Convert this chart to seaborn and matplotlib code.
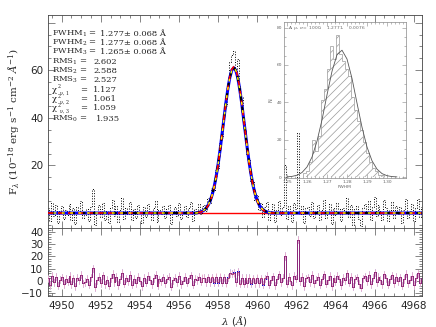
import numpy as np
import matplotlib
matplotlib.use("Agg")
import matplotlib.pyplot as plt
from matplotlib.ticker import MultipleLocator
import seaborn as sns

# observed spectrum (continuum subtracted), 0.1 A sampling starting at 4949.3
wave_start = 4949.3
wave_step = 0.1
flux = [2.1, -3.4, 4.0, -1.2, 3.5, -4.1, 0.8, 2.9, -2.6, 1.4,
        -0.7, 3.8, -3.0, 1.9, -4.6, 2.4, 0.3, 5.1, -2.2, -0.9,
        1.6, -3.3, 2.7, 10.2, -5.2, 0.4, 3.2, -1.8, 4.4, -2.9,
        0.9, -4.0, 2.2, 5.6, -1.1, 3.0, -3.6, 1.2, 6.3, -2.4,
        2.0, -0.5, 4.7, -3.1, 1.5, -1.9, 3.4, 0.2, -4.3, 2.6,
        -1.6, 3.9, 0.7, -2.8, 2.3, 5.0, -3.9, 1.1, -0.6, 2.8,
        -2.1, 1.7, 3.3, -4.8, 0.5, 2.5, -1.3, 4.2, -2.7, 0.1,
        3.1, -1.5, 2.0, 4.6, -3.2, 1.8, 0.6, 3.7, -0.4, 2.9,
        3.5, 1.0, 6.2, 4.1, 10.3, 9.6, 18.2, 19.0, 29.4, 31.5,
        42.6, 44.8, 55.1, 63.5, 66.2, 68.0, 59.1, 64.8, 50.2, 48.9,
        37.6, 35.4, 24.3, 22.8, 13.1, 12.9, 5.6, 7.4, 1.2, 4.0,
        -1.8, 2.6, 4.5, -2.9, 0.8, 3.6, -3.7, 1.3, 5.2, -1.0,
        2.4, 20.3, -2.5, 3.1, 0.2, -3.8, 4.1, 1.6, 33.8, -0.3,
        3.0, -4.4, 1.9, 2.7, -1.4, 4.8, -2.0, 0.9, 3.5, -3.1,
        1.2, 5.4, -2.3, 0.6, 3.9, -4.5, 2.1, -0.8, 4.3, 1.7,
        -3.5, 2.2, 0.4, 6.1, -1.7, 3.3, -4.9, 1.5, 2.8, -2.6,
        -5.6, 1.9, 3.6, -0.2, 4.9, -3.0, 2.5, 6.8, -1.2, 3.4,
        0.7, -2.8, 5.3, 2.0, -3.3, 1.1, 4.6, -1.9, 3.0, -0.5,
        2.7, -4.0, 1.4, 5.7, -2.2, 0.9, 3.8, -3.4, 2.3, 6.0,
        -1.5, 2.5]
flux_err = 3.0
continuum = 0.0

# gaussian fits of the line, same grid, from 4957.0 to 4960.6
peak_start = 4957.0
fit_1 = [0.25, 0.45, 0.78, 1.32, 2.17, 3.44, 5.26, 7.78, 11.1, 15.4,
         20.5, 26.5, 33.1, 39.9, 46.5, 52.3, 57.0, 60.0, 61.0, 60.0,
         57.0, 52.3, 46.5, 39.9, 33.1, 26.5, 20.5, 15.4, 11.1, 7.78,
         5.26, 3.44, 2.17, 1.32, 0.78, 0.45, 0.25]
fit_3 = [0.22, 0.41, 0.73, 1.25, 2.06, 3.29, 5.07, 7.55, 10.9, 15.1,
         20.3, 26.3, 33.0, 39.9, 46.6, 52.6, 57.4, 60.4, 61.5, 60.4,
         57.4, 52.6, 46.6, 39.9, 33.0, 26.3, 20.3, 15.1, 10.9, 7.55,
         5.07, 3.29, 2.06, 1.25, 0.73, 0.41, 0.22]

fwhm_vals = [1.277, 1.277, 1.265]
fwhm_err = 0.068
rms_vals = [2.602, 2.588, 2.527]
chi_vals = [1.127, 1.061, 1.059]
rms0 = 1.935

# inset: distribution of FWHM from the simulations
hist_start = 1.2580
hist_width = 0.0015
hist_counts = [2, 3, 8, 20, 14, 22, 41, 47, 58, 70, 63, 76, 66, 62,
               58, 54, 43, 36, 30, 25, 19, 13, 8, 5, 3, 1, 1]
gauss_x = [1.2500, 1.2525, 1.2550, 1.2575, 1.2600, 1.2625, 1.2650, 1.2675,
           1.2700, 1.2725, 1.2750, 1.2775, 1.2800, 1.2825, 1.2850, 1.2875,
           1.2900, 1.2925, 1.2950, 1.2975, 1.3000, 1.3025, 1.3050]
gauss_y = [0.12, 0.36, 0.99, 2.44, 5.41, 10.7, 19.2, 30.6, 44.0, 56.6, 65.5,
           67.9, 63.2, 52.8, 39.6, 26.7, 16.1, 8.73, 4.25, 1.86, 0.73, 0.26, 0.08]

sns.set_style("ticks")
plt.rcParams['font.family'] = ['DejaVu Sans']
plt.rcParams['mathtext.fontset'] = 'dejavuserif'
plt.rcParams['hatch.color'] = '#888888'
plt.rcParams['hatch.linewidth'] = 0.5

W, H = 436, 327
fig = plt.figure(figsize=(W / 100, H / 100), dpi=100)


def box(x0, y0, x1, y1):
    return [x0 / W, 1 - y1 / H, (x1 - x0) / W, (y1 - y0) / H]


ax = fig.add_axes(box(48, 15, 421.5, 228))
axr = fig.add_axes(box(48, 228, 421.5, 296), sharex=ax)

wave = np.round(wave_start + wave_step * np.arange(len(flux)), 2)
flux = np.array(flux)
i0 = int(round((peak_start - wave_start) / wave_step))
model_1 = np.full(len(flux), continuum)
model_1[i0:i0 + len(fit_1)] += fit_1
model_3 = np.full(len(flux), continuum)
model_3[i0:i0 + len(fit_3)] += fit_3

# top panel
ax.axhline(continuum, color='red', lw=1.0, zorder=1)
sns.lineplot(x=wave, y=flux, ax=ax, color='black', lw=0.7, linestyle=':',
             drawstyle='steps-mid', zorder=2)
sns.lineplot(x=wave, y=model_1, ax=ax, color='blue', lw=2.2, zorder=3)
sns.lineplot(x=wave, y=model_1, ax=ax, color='black', lw=1.5, linestyle=(0, (3, 2)), zorder=4)
sns.lineplot(x=wave, y=model_3, ax=ax, color='red', lw=1.2, linestyle=(0, (3, 3)), zorder=5)
sns.lineplot(x=wave, y=model_1, ax=ax, color='yellow', lw=1.0, linestyle=(2, (2, 4)), zorder=6)

ax.set_xlim(4949.3, 4968.4)
ax.set_ylim(-6.3, 83.2)
ax.set_xlabel("")
ax.set_ylabel(r"F$_\lambda$ (10$^{-18}$ erg s$^{-1}$ cm$^{-2}$ $\AA^{-1}$)",
              fontsize=7.5, family='DejaVu Serif', labelpad=6)
ax.set_yticks([0, 20, 40, 60, 80], ['', '20', '40', '60', ''])
ax.yaxis.set_minor_locator(MultipleLocator(5))
ax.xaxis.set_major_locator(MultipleLocator(2))
ax.xaxis.set_minor_locator(MultipleLocator(0.5))
ax.tick_params(labelbottom=False)

# residuals
res_1 = flux - model_1
res_3 = flux - model_3
axr.errorbar(wave, res_1, yerr=flux_err, fmt='none', ecolor='#bdbdbd', elinewidth=0.7, zorder=1)
sns.lineplot(x=wave, y=res_1, ax=axr, color='black', lw=0.6, drawstyle='steps-mid', zorder=2)
axr.errorbar(wave, res_1, yerr=flux_err, fmt='none', ecolor='#aab0ff', elinewidth=0.6, zorder=3)
sns.lineplot(x=wave, y=res_1, ax=axr, color='blue', lw=0.6, drawstyle='steps-mid', zorder=4)
axr.errorbar(wave, res_3, yerr=flux_err, fmt='none', ecolor='#eeaac8', elinewidth=0.6, zorder=5)
sns.lineplot(x=wave, y=res_3, ax=axr, color='#a8306a', lw=0.6, drawstyle='steps-mid', zorder=6)
axr.set_ylim(-12.5, 43.3)
axr.yaxis.set_major_locator(MultipleLocator(10))
axr.yaxis.set_minor_locator(MultipleLocator(2))
axr.set_xlabel(r"$\lambda$ ($\AA$)", fontsize=7.5, labelpad=2)
axr.set_ylabel("")

for a in (ax, axr):
    a.tick_params(which='both', direction='in', top=True, right=True,
                  labelsize=7.5, color='#555555', width=0.5)
    a.tick_params(which='major', length=5)
    a.tick_params(which='minor', length=2.5)
    for s in a.spines.values():
        s.set_linewidth(0.6)
        s.set_color('#444444')

# fit results text block
tkw = dict(fontsize=6.0, family='DejaVu Serif', va='center', transform=fig.transFigure)
skw = dict(fontsize=3.4, family='DejaVu Serif', transform=fig.transFigure)
rows_y = [34, 43, 52, 62, 71, 80, 90, 99, 108, 119]
for k in range(3):
    y = 1 - rows_y[k] / H
    fig.text(52 / W, y, rf"FWHM$_{k + 1}$ =", **tkw)
    fig.text(100 / W, y, f"{fwhm_vals[k]:.3f}\u00b1 {fwhm_err:.3f} \u00c5", **tkw)
for k in range(3):
    y = 1 - rows_y[3 + k] / H
    fig.text(52 / W, y, rf"RMS$_{k + 1}$ =", **tkw)
    fig.text(93 / W, y, f"{rms_vals[k]:.3f}", **tkw)
for k in range(3):
    yp = rows_y[6 + k]
    y = 1 - yp / H
    fig.text(52 / W, y, "\u03c7", **tkw)
    fig.text(57.5 / W, 1 - (yp - 0.5) / H, "2", va='bottom', **skw)
    fig.text(60 / W, 1 - (yp + 0.5) / H, f"\u03bd, {k + 1}", va='top', **skw)
    fig.text(80 / W, y, "=", **tkw)
    fig.text(93 / W, y, f"{chi_vals[k]:.3f}", **tkw)
fig.text(52 / W, 1 - rows_y[9] / H, r"RMS$_0$ =", **tkw)
fig.text(96 / W, 1 - rows_y[9] / H, f"{rms0:.3f}", **tkw)

# inset histogram
axi = fig.add_axes(box(284, 22, 406, 178))
axi.set_facecolor('none')
edges = hist_start + hist_width * np.arange(len(hist_counts) + 1)
axi.stairs(hist_counts, edges, fill=True, facecolor='none', edgecolor='#999999',
           hatch='////', lw=0)
axi.stairs(hist_counts, edges, color='#aaaaaa', lw=0.6)
sns.lineplot(x=gauss_x, y=gauss_y, ax=axi, color='#555555', lw=0.6)
axi.set_xlim(1.2485, 1.3095)
axi.set_ylim(-0.5, 83)
axi.set_xticks([1.25, 1.26, 1.27, 1.28, 1.29, 1.30],
               ["1.25", "1.26", "1.27", "1.28", "1.29", "1.30"])
axi.xaxis.set_minor_locator(MultipleLocator(0.002))
axi.yaxis.set_major_locator(MultipleLocator(20))
axi.yaxis.set_minor_locator(MultipleLocator(5))
axi.tick_params(which='both', direction='in', top=True, right=True,
                labelsize=3.2, color='#888888', width=0.4, pad=1.5, labelcolor='#666666')
axi.tick_params(which='major', length=3)
axi.tick_params(which='minor', length=1.5)
for s in axi.spines.values():
    s.set_linewidth(0.5)
    s.set_color('#888888')
axi.set_xlabel("FWHM", fontsize=3.2, color='#666666', labelpad=1)
axi.set_ylabel("N", fontsize=3.5, color='#666666', labelpad=2)
axi.text(0.03, 0.985, r"A, $\mu$, $\sigma$=  1000,    1.2771,    0.0076",
         transform=axi.transAxes, fontsize=3.2, color='#666666', va='top')

fig.savefig("out.png", dpi=100)
